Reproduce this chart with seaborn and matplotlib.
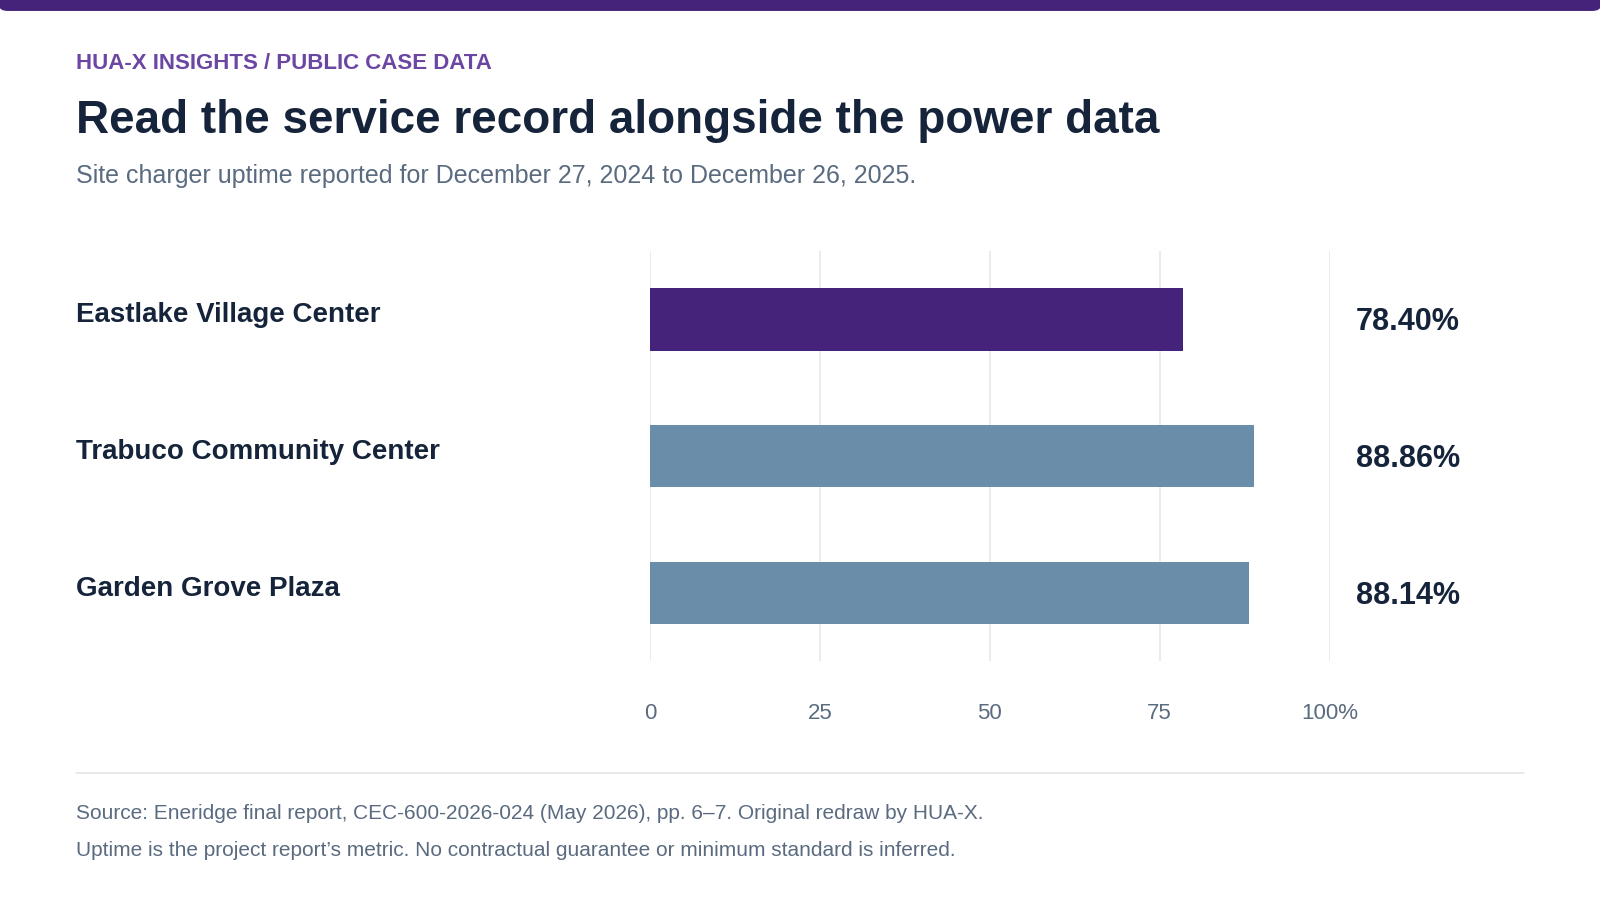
import pandas as pd
import matplotlib.pyplot as plt
import seaborn as sns
from matplotlib.patches import FancyBboxPatch

# Data
sites = ["Eastlake Village Center", "Trabuco Community Center", "Garden Grove Plaza"]
uptime = [78.40, 88.86, 88.14]
bar_colors = ["#46237A", "#6A8EAA", "#6A8EAA"]
tick_values = [0, 25, 50, 75, 100]
tick_labels = ["0", "25", "50", "75", "100%"]

df = pd.DataFrame({"site": sites, "uptime": uptime})

sns.set_theme(style="white")
plt.rcParams["font.family"] = ["Liberation Sans", "DejaVu Sans"]

W, H = 1568, 878
fig = plt.figure(figsize=(16, 9), dpi=100)


def fx(px):
    return px / W


def fy(py):
    return 1 - py / H


# top accent bar
fig.patches.append(FancyBboxPatch((fx(0), fy(10)), 1, 12 / H, boxstyle="round,pad=0,rounding_size=0.005",
                                  transform=fig.transFigure, color="#46237A", clip_on=False))

fig.text(fx(74), fy(62), "HUA-X INSIGHTS / PUBLIC CASE DATA", color="#6B46A3",
         fontsize=16, fontweight="bold", va="center")
fig.text(fx(74), fy(118), "Read the service record alongside the power data", color="#15243A",
         fontsize=33, fontweight="bold", va="center")
fig.text(fx(74), fy(172), "Site charger uptime reported for December 27, 2024 to December 26, 2025.",
         color="#5A6B80", fontsize=18, va="center")

ax = fig.add_axes([fx(637), fy(645), fx(1303) - fx(637), (645 - 245) / H])
sns.barplot(data=df, y="site", x="uptime", hue="site", palette=dict(zip(sites, bar_colors)),
            orient="h", width=0.455, legend=False, ax=ax, saturation=1)
for p in ax.patches:
    p.set_edgecolor("none")
ax.set_xlim(0, 100)
ax.set_ylim(2.5, -0.5)
ax.set_xticks(tick_values)
ax.set_xticklabels(tick_labels, fontsize=16, color="#5A6B80")
ax.tick_params(axis="x", length=0, pad=30)
ax.set_yticks([])
ax.set_xlabel("")
ax.set_ylabel("")
ax.grid(axis="x", color="#E6E8EC", linewidth=1.2)
ax.set_axisbelow(True)
for s in ax.spines.values():
    s.set_visible(False)

for i, (name, val) in enumerate(zip(sites, uptime)):
    ax.text(-0.0, i - 0.03, name, transform=ax.get_yaxis_transform(), ha="left", va="center",
            fontsize=20, fontweight="bold", color="#15243A")
    ax.texts[-1].set_x((fx(74) - fx(637)) / (fx(1303) - fx(637)))
    ax.text((1380 - 637) / (1303 - 637), i + 0.02, f"{val:.2f}%", transform=ax.get_yaxis_transform(),
            ha="center", va="center", fontsize=22, fontweight="bold", color="#15243A")

fig.add_artist(plt.Line2D([fx(74), fx(1494)], [fy(754), fy(754)], color="#E3E6EA", linewidth=1.2))
fig.text(fx(74), fy(794), "Source: Eneridge final report, CEC-600-2026-024 (May 2026), pp. 6\u20137. Original redraw by HUA-X.",
         color="#5A6B80", fontsize=15, va="center")
fig.text(fx(74), fy(830), "Uptime is the project report\u2019s metric. No contractual guarantee or minimum standard is inferred.",
         color="#5A6B80", fontsize=15, va="center")

fig.savefig("out.png", dpi=100, facecolor="white")
